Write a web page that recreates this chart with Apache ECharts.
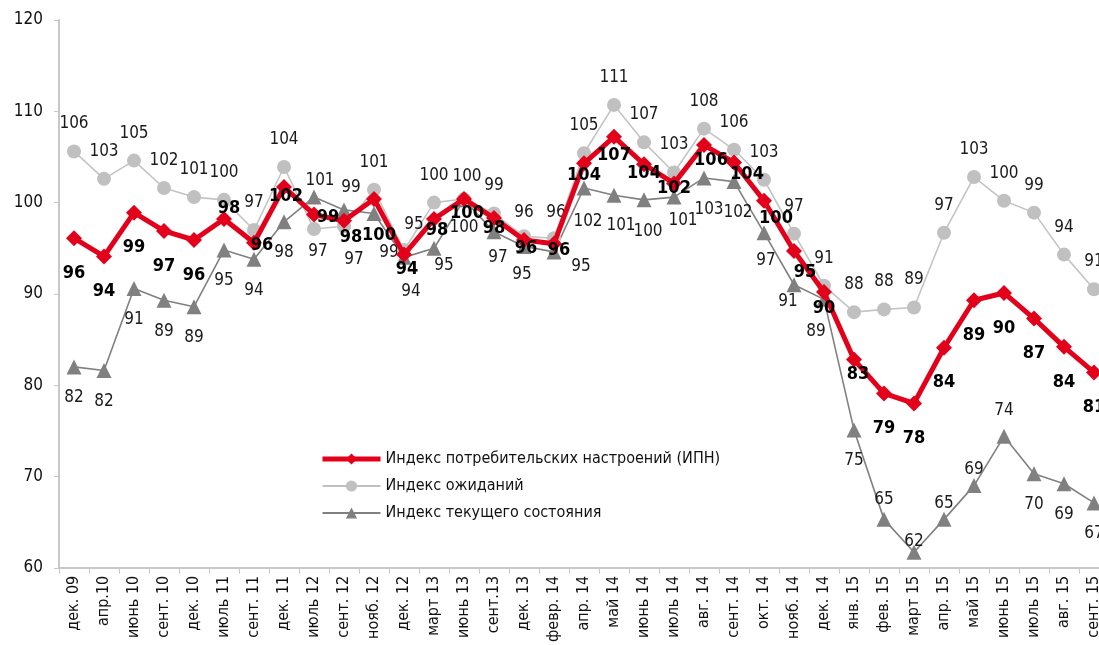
<!DOCTYPE html>
<html><head><meta charset="utf-8">
<script src="https://cdn.jsdelivr.net/npm/echarts@6/dist/echarts.min.js"></script>
<style>html,body{margin:0;padding:0;background:#fff;overflow:hidden;width:1099px;height:645px}#c{width:1109px;height:645px}</style>
</head><body><div id="c"></div>
<script>
const categories = ["дек. 09","апр.10","июнь 10","сент. 10","дек. 10","июль 11","сент. 11","дек. 11","июль 12","сент. 12","нояб. 12","дек. 12","март 13","июнь 13","сент.13","дек. 13","февр. 14","апр. 14","май 14","июнь 14","июль 14","авг. 14","сент. 14","окт. 14","нояб. 14","дек. 14","янв. 15","фев. 15","март 15","апр. 15","май 15","июнь 15","июль 15","авг. 15","сент. 15"];
const ipn = [96.1,94.1,98.9,96.9,95.9,98.2,95.6,101.7,98.7,98.0,100.4,94.3,98.2,100.4,98.3,95.9,95.5,104.3,107.2,104.2,102.1,106.3,104.4,100.2,94.7,90.2,82.8,79.1,78.0,84.1,89.3,90.1,87.3,84.2,81.4];
const expectations = [105.6,102.6,104.6,101.6,100.6,100.3,97.0,103.9,97.1,97.4,101.4,94.8,100.0,100.4,98.8,96.3,96.1,105.4,110.7,106.6,103.3,108.1,105.8,102.5,96.6,90.9,88.0,88.3,88.5,96.7,102.8,100.2,98.9,94.3,90.5];
const current = [82.0,81.6,90.6,89.3,88.6,94.8,93.8,97.9,100.6,99.2,98.8,94.0,95.0,100.3,96.8,95.2,94.6,101.6,100.8,100.3,100.6,102.7,102.3,96.7,91.0,89.4,75.1,65.3,61.7,65.3,69.0,74.4,70.3,69.2,67.1];
const yTicks = [60,70,80,90,100,110,120];
const seriesNames = ["Индекс потребительских настроений (ИПН)","Индекс ожиданий","Индекс текущего состояния"];

// label placement overrides: index -> [dx, dy] relative to the point centre
const ipnLabelOverrides = {5:[5,-11],6:[8,3],7:[2,9],8:[14,3],9:[7,16],10:[5,36],11:[3,15],12:[3,11],13:[3,14],14:[0,10],15:[2,8],16:[5,7],17:[0,12],18:[0,18],19:[0,9],20:[0,5],21:[7,15],22:[13,12],23:[12,18],24:[11,21],25:[0,16],26:[4,15]};
const expLabelOverrides = {8:[4,23],9:[10,33],11:[10,-25],13:[3,-22],15:[0,-24],16:[2,-26]};
const curLabelOverrides = {8:[6,-17],9:[7,-22],10:[15,39],11:[7,34],12:[10,17],13:[0,28],14:[4,26],15:[-2,28],16:[27,15],17:[4,34],18:[7,30],19:[4,32],20:[9,23],21:[5,32],22:[4,31],23:[2,28],24:[-6,17],25:[-8,32],27:[0,-20],28:[0,-11],29:[0,-16],30:[0,-16],31:[0,-26]};

function build(values, overrides){
  return values.map((v,i)=>{
    const o = overrides[i];
    if(!o) return v;
    return {value:v,label:{position:'inside',offset:[o[0],o[1]]}};
  });
}
const RED='#e2001a', LIGHT='#c0c0c0', DARK='#808080';
const FONT = '"Liberation Sans Narrow","DejaVu Sans Condensed","Liberation Sans",sans-serif';
const chart = echarts.init(document.getElementById('c'));
chart.setOption({
  animation:false,
  backgroundColor:'#fff',
  textStyle:{fontFamily:FONT},
  grid:{left:59,right:0,top:20,bottom:77,containLabel:false},
  legend:{
    orient:'vertical',left:315,top:446,itemGap:11,itemWidth:58,itemHeight:14,
    textStyle:{fontFamily:FONT,fontSize:16,color:'#111'},
    data:[
      {name:seriesNames[0],lineStyle:{width:5,color:RED}},
      {name:seriesNames[1],lineStyle:{width:2,color:LIGHT}},
      {name:seriesNames[2],lineStyle:{width:2,color:DARK}}
    ]
  },
  xAxis:{
    type:'category',data:categories,boundaryGap:true,
    axisLine:{lineStyle:{color:'#c8c8c8',width:2}},
    axisTick:{show:true,alignWithLabel:false,length:6,lineStyle:{color:'#c8c8c8'}},
    axisLabel:{rotate:90,interval:0,fontSize:16,color:'#111',margin:8,fontFamily:FONT}
  },
  yAxis:{
    type:'value',min:yTicks[0],max:yTicks[yTicks.length-1],interval:10,
    splitLine:{show:false},
    axisLine:{show:true,lineStyle:{color:'#c8c8c8',width:2}},
    axisTick:{show:true,length:5,lineStyle:{color:'#c8c8c8'}},
    axisLabel:{fontSize:17,color:'#111',margin:16,fontFamily:FONT}
  },
  series:[
    {
      name:seriesNames[2],type:'line',data:build(current,curLabelOverrides),z:2,
      symbol:'triangle',symbolSize:15,
      itemStyle:{color:DARK},lineStyle:{color:DARK,width:1.6},
      label:{show:true,position:'bottom',distance:15,fontSize:17,color:'#1a1a1a',fontFamily:FONT,formatter:p=>Math.round(p.value)}
    },
    {
      name:seriesNames[1],type:'line',data:build(expectations,expLabelOverrides),z:3,
      symbol:'circle',symbolSize:14,
      itemStyle:{color:LIGHT},lineStyle:{color:'#c4c4c4',width:1.6},
      label:{show:true,position:'top',distance:12,fontSize:17,color:'#1a1a1a',fontFamily:FONT,formatter:p=>Math.round(p.value)}
    },
    {
      name:seriesNames[0],type:'line',data:build(ipn,ipnLabelOverrides),z:4,
      symbol:'diamond',symbolSize:16,
      itemStyle:{color:RED},lineStyle:{color:RED,width:5},
      label:{show:true,position:'bottom',distance:18,fontSize:18,fontWeight:'bold',color:'#000',fontFamily:FONT,formatter:p=>Math.round(p.value)}
    }
  ]
});
</script></body></html>
